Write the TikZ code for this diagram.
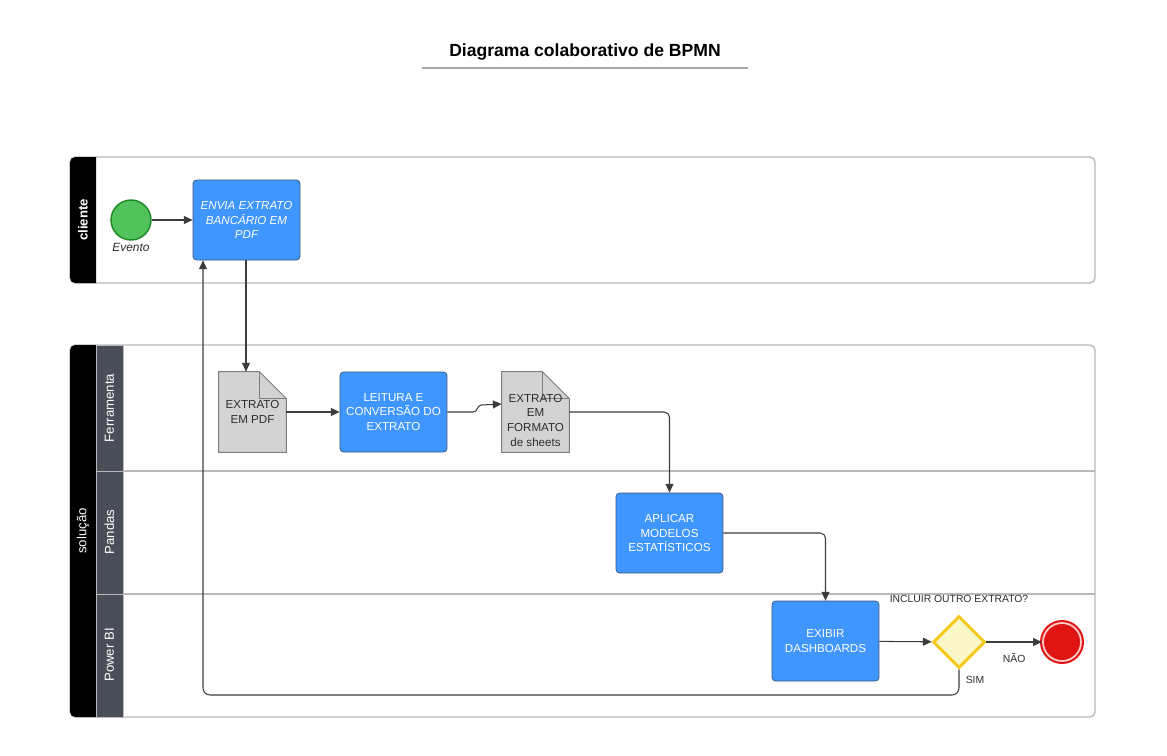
\documentclass[tikz,border=0pt]{standalone}
\usepackage{fontspec}
\setmainfont{Liberation Sans}
\usepackage{tikz}
\usetikzlibrary{positioning, calc}
\usetikzlibrary{arrows.meta}
\usetikzlibrary{shapes.geometric, backgrounds}

\definecolor{taskblue}{RGB}{64,150,255}
\definecolor{taskline}{RGB}{55,85,125}
\definecolor{docfill}{RGB}{211,211,211}
\definecolor{docline}{RGB}{125,125,125}
\definecolor{doctext}{RGB}{45,45,45}
\definecolor{lanegray}{RGB}{74,78,89}
\definecolor{poolline}{RGB}{185,185,185}
\definecolor{flowgray}{RGB}{60,60,60}
\definecolor{startgreen}{RGB}{82,194,90}
\definecolor{startline}{RGB}{30,135,40}
\definecolor{endred}{RGB}{225,20,20}
\definecolor{endpink}{RGB}{250,205,205}
\definecolor{gwfill}{RGB}{250,248,200}
\definecolor{gwline}{RGB}{245,200,30}

\begin{document}
\begin{tikzpicture}[x=0.02cm,y=-0.02cm,>={Triangle[length=5pt,width=4.5pt]},draw=black!100]
	\useasboundingbox (0,0) rectangle (1167,755);
	\def \poolleft{70}
	\def \hdright{96}
	\def \laneright{123}
	\def \poolright{1095}
	\tikzstyle{task}=[rectangle,rounded corners=2pt,draw=taskline,fill=taskblue,text=white,align=center,minimum width=2.14cm,minimum height=1.6cm,inner sep=2pt,font=\fontsize{6.6}{8.4}\selectfont]
	\tikzstyle{doc}=[rectangle,minimum width=1.34cm,minimum height=1.6cm,align=center,inner sep=0pt,text=doctext,font=\fontsize{6.6}{8.4}\selectfont]
	\tikzstyle{flow}=[->,draw=flowgray,line width=0.6pt]
	\tikzstyle{poollbl}=[rotate=90,text=white,font=\fontsize{7.5}{9}\selectfont]
	\tikzstyle{annot}=[text=doctext,font=\fontsize{5.9}{7}\selectfont]
	
	% title
	\node[font=\bfseries\fontsize{10}{12}\selectfont] (titulo) at (585,52) {Diagrama colaborativo de BPMN};
	\draw[gray!70,line width=0.8pt] (422,68) -- (748,68);
	
	% pool cliente
	\draw[poolline,line width=0.8pt,rounded corners=3pt] (\poolleft,157) rectangle (\poolright,283);
	\fill[black] (\hdright,157) [rounded corners=3pt] -- (\poolleft,157) -- (\poolleft,283) [sharp corners] -- (\hdright,283) -- cycle;
	\node[poollbl,font=\bfseries\fontsize{7.5}{9}\selectfont] (cliente) at (83,220) {cliente};
	
	% pool solucao
	\draw[poolline,line width=0.8pt,rounded corners=3pt] (\poolleft,345) rectangle (\poolright,717);
	\fill[black] (\hdright,345) [rounded corners=3pt] -- (\poolleft,345) -- (\poolleft,717) [sharp corners] -- (\hdright,717) -- cycle;
	\node[poollbl] (solucao) at (83,531) {solução};
	\draw[poolline,line width=0.8pt] (\hdright,471) -- (\poolright,471);
	\draw[poolline,line width=0.8pt] (\hdright,594) -- (\poolright,594);
	\filldraw[fill=lanegray,draw=poolline,line width=0.5pt] (\hdright,345) rectangle (\laneright,471);
	\filldraw[fill=lanegray,draw=poolline,line width=0.5pt] (\hdright,471) rectangle (\laneright,594);
	\filldraw[fill=lanegray,draw=poolline,line width=0.5pt] (\hdright,594) rectangle (\laneright,717);
	\node[poollbl] (ferramenta) at (109.5,408) {Ferramenta};
	\node[poollbl] (pandas) at (109.5,532) {Pandas};
	\node[poollbl] (powerbi) at (109.5,655) {Power BI};
	
	% events and tasks
	\node[circle,minimum size=0.8cm,inner sep=0pt,fill=startgreen,draw=startline,line width=0.8pt] (evento) at (131,220) {};
	\node[text=doctext,font=\itshape\fontsize{6.8}{8}\selectfont] (eventolbl) at (131,247) {Evento};
	\node[task,font=\itshape\fontsize{6.6}{8.4}\selectfont] (envia) at (246.5,220) {ENVIA EXTRATO\\BANCÁRIO EM\\PDF};
	\node[doc] (pdf) at (252.5,412) {EXTRATO\\EM PDF};
	\node[task] (leitura) at (393.5,412) {LEITURA E\\CONVERSÃO DO\\EXTRATO};
	\node[doc] (sheets) at (535.5,412) {\rule{0pt}{14pt}EXTRATO\\EM\\FORMATO\\de sheets};
	\node[task] (aplicar) at (669.5,533) {APLICAR\\MODELOS\\ESTATÍSTICOS};
	\node[task] (exibir) at (825.5,641) {EXIBIR\\DASHBOARDS};
	\node[diamond,aspect=1,minimum size=1.04cm,inner sep=0pt,fill=gwfill,draw=gwline,line width=1.7pt] (decide) at (959,642) {};
	\node[annot,above=3pt of decide] (pergunta) {INCLUIR OUTRO EXTRATO?};
	\node[circle,minimum size=0.76cm,inner sep=0pt,fill=endred,draw=endred,double=endpink,double distance=1pt,line width=1.2pt] (fim) at (1062,642) {};
	
	% data objects
	\begin{scope}[on background layer]
	\foreach \d in {pdf,sheets} {
		\draw[docline,fill=docfill,line width=0.5pt] (\d.north west) -- ($(\d.north east)+(-27,0)$) -- ($(\d.north east)+(0,27)$) -- (\d.south east) -- (\d.south west) -- cycle;
		\draw[docline,line width=0.5pt] ($(\d.north east)+(-27,0)$) -- ($(\d.north east)+(-27,27)$) -- ($(\d.north east)+(0,27)$);
	}
	\end{scope}
	
	% flows
	\coordinate (volta) at (203,695);
	\draw[flow] (evento) -- (envia);
	\draw[flow] (envia.south -| 246,0) -- (pdf.north -| 246,0);
	\draw[flow] (pdf) -- (leitura);
	\draw[flow] (leitura.east) -- ++(26,0) to[out=0,in=180] ++(8,-7) -- ($(sheets.west)+(0,-8)$);
	\draw[flow,rounded corners=3pt] (sheets.east) -| (aplicar.north);
	\draw[flow,rounded corners=3pt] (aplicar.east) -| (exibir.north);
	\draw[flow] (exibir) -- (decide);
	\draw[flow] (decide) -- (fim) node[annot,midway,below=3pt] (nao) {NÃO};
	\draw[flow,rounded corners=4pt] (decide.south) |- (volta) -- (volta |- envia.south);
	\node[annot] (sim) at (975,680) {SIM};
\end{tikzpicture}
\end{document}
